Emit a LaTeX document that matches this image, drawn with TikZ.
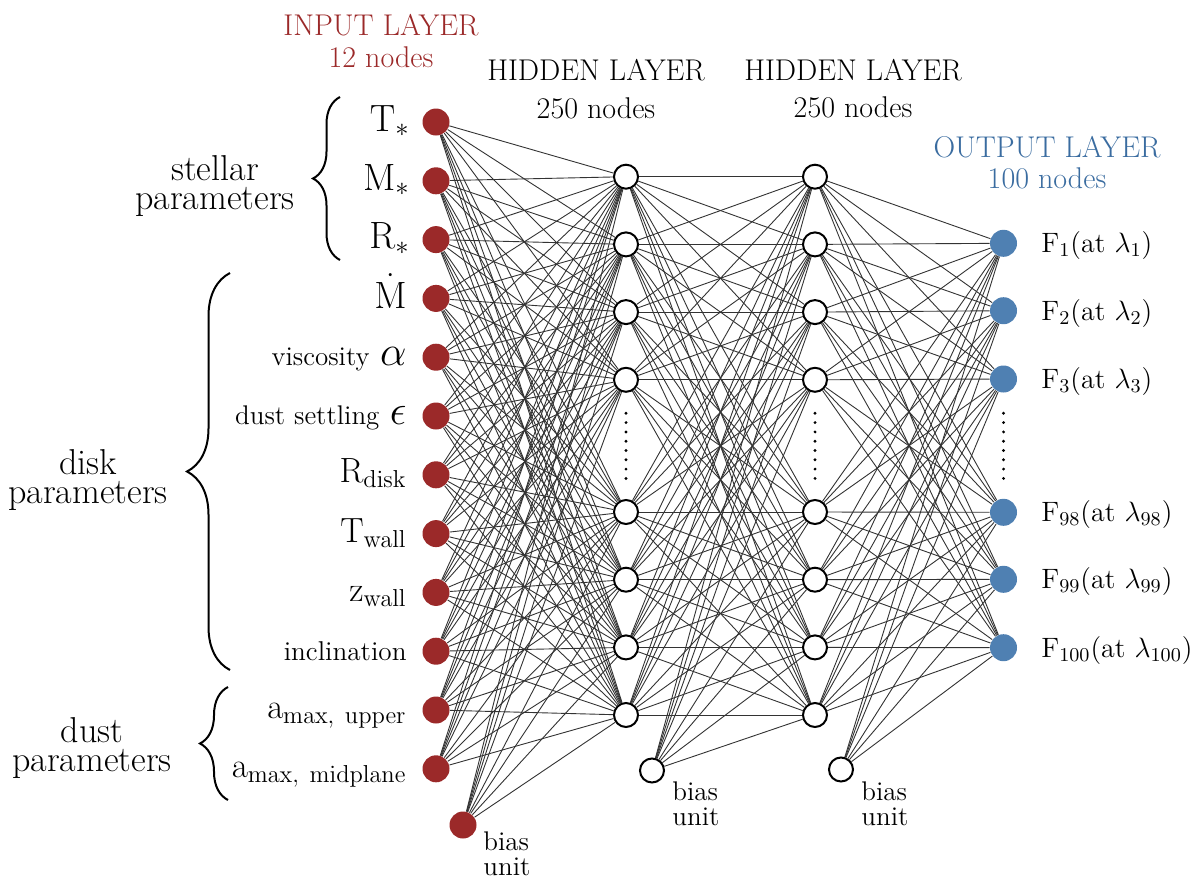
\IfFileExists{fix-cm.sty}{\RequirePackage{fix-cm}}{}
\documentclass[tikz,border=0pt]{standalone}
\usetikzlibrary{decorations.pathreplacing}
\definecolor{inred}{RGB}{155,41,41}
\definecolor{outblue}{RGB}{79,128,178}
\definecolor{outbluetext}{RGB}{58,108,160}
\newcommand{\bigmath}{\fontsize{19}{21}\selectfont}
\newcommand{\midmath}{\fontsize{17.5}{20}\selectfont}
\newcommand{\smalltext}{\fontsize{13.5}{15}\selectfont}
\newcommand{\greek}{\fontsize{21}{23}\selectfont}
\begin{document}
\begin{tikzpicture}[x=0.5pt,y=-0.5pt,
  innode/.style={circle,fill=inred,minimum size=13.5pt,inner sep=0pt},
  hidnode/.style={circle,draw=black,fill=white,line width=1pt,minimum size=12pt,inner sep=0pt},
  outnode/.style={circle,fill=outblue,minimum size=13.5pt,inner sep=0pt},
  conn/.style={line width=0.45pt,draw=black!80},
  lab/.style={font=\midmath,inner sep=0pt,anchor=base east},
  olab/.style={font=\fontsize{14}{16}\selectfont,inner sep=0pt,anchor=base west},
  ttl/.style={font=\fontsize{15}{17}\selectfont,inner sep=0pt,anchor=base},
  glab/.style={font=\fontsize{18}{14.5}\selectfont,inner sep=0pt,align=center},
  blab/.style={font=\fontsize{13.5}{12.5}\selectfont,inner sep=0pt,align=left,anchor=north west},
  bracestyle/.style={line width=1pt,decorate},
  dotstyle/.style={fill=black}
]
\useasboundingbox (0,0) rectangle (1200,889);

% input layer
\foreach \y [count=\i] in {122,180.8,239.6,298.4,357.2,416,474.8,533.6,592.4,651.2,710,768.8}
  \node[innode] (i\i) at (436,\y) {};
\node[innode] (ib) at (463,825) {};

% hidden layers
\foreach \y [count=\i] in {176.7,244.4,312.1,379.8,512,579.7,647.4,715}{
  \node[hidnode] (a\i) at (626,\y) {};
  \node[hidnode] (b\i) at (815,\y) {};
}
\node[hidnode] (ab) at (652,770.5) {};
\node[hidnode] (bb) at (841,769.5) {};

% output layer
\foreach \y [count=\i] in {243.3,310.7,379,512.3,579.3,647.7}
  \node[outnode] (o\i) at (1003.5,\y) {};

% connections
\foreach \s in {1,...,12,b}
  \foreach \t in {1,...,8}
    \draw[conn] (i\s) -- (a\t);
\foreach \s in {1,...,8,b}
  \foreach \t in {1,...,8}
    \draw[conn] (a\s) -- (b\t);
\foreach \s in {1,...,8,b}
  \foreach \t in {1,...,6}
    \draw[conn] (b\s) -- (o\t);

% dots
\foreach \x in {626,815,1003.5}
  \foreach \k in {0,...,7}
    \fill[dotstyle] (\x,{413.3+9.3*\k}) circle (0.8pt);

% input labels
\node[lab,font=\bigmath] (l1) at (410,131) {$\mathrm{T}_{*}$};
\node[lab,font=\bigmath] (l2) at (410,190) {$\mathrm{M}_{*}$};
\node[lab,font=\bigmath] (l3) at (410,248.5) {$\mathrm{R}_{*}$};
\node[lab,font=\bigmath] (l4) at (407,308) {$\dot{\mathrm{M}}$};
\node[lab] (l5) at (407,365.5) {{\smalltext viscosity} {\greek$\alpha$}};
\node[lab] (l6) at (407,424.5) {{\smalltext dust settling} {\greek$\epsilon$}};
\node[lab] (l7) at (407,482.5) {$\mathrm{R}_{\mathrm{disk}}$};
\node[lab] (l8) at (407,542) {$\mathrm{T}_{\mathrm{wall}}$};
\node[lab] (l9) at (407,601) {$\mathrm{z}_{\mathrm{wall}}$};
\node[lab,font=\fontsize{13.6}{15}\selectfont] (l10) at (407,660) {inclination};
\node[lab] (l11) at (407,718.5) {$\mathrm{a}_{\mathrm{max,\ upper}}$};
\node[lab] (l12) at (407,777) {$\mathrm{a}_{\mathrm{max,\ midplane}}$};

% output labels
\node[olab] (ol1) at (1041,252.5) {$\mathrm{F}_{1}$(at $\lambda_{1}$)};
\node[olab] (ol2) at (1041,320) {$\mathrm{F}_{2}$(at $\lambda_{2}$)};
\node[olab] (ol3) at (1041,388) {$\mathrm{F}_{3}$(at $\lambda_{3}$)};
\node[olab] (ol4) at (1041,521.5) {$\mathrm{F}_{98}$(at $\lambda_{98}$)};
\node[olab] (ol5) at (1041,588.5) {$\mathrm{F}_{99}$(at $\lambda_{99}$)};
\node[olab] (ol6) at (1041,657) {$\mathrm{F}_{100}$(at $\lambda_{100}$)};

% titles
\node[ttl,text=inred] (t1) at (381,35) {INPUT LAYER};
\node[ttl,text=inred] (t1n) at (381,67) {12 nodes};
\node[ttl] (t2) at (596,80) {HIDDEN LAYER};
\node[ttl] (t2n) at (596,118) {250 nodes};
\node[ttl] (t3) at (853,80) {HIDDEN LAYER};
\node[ttl] (t3n) at (853,117) {250 nodes};
\node[ttl,text=outbluetext] (t4) at (1047,157) {OUTPUT LAYER};
\node[ttl,text=outbluetext] (t4n) at (1047,188) {100 nodes};

% bias labels
\node[blab] (bl0) at (483,831) {bias\\unit};
\node[blab] (bl1) at (672,781) {bias\\unit};
\node[blab] (bl2) at (861,781) {bias\\unit};

% groups
\draw[bracestyle,decoration={brace,amplitude=13.5pt}] (340,260) -- (340,97);
\draw[bracestyle,decoration={brace,amplitude=21.5pt}] (230,670) -- (230,273);
\draw[bracestyle,decoration={brace,amplitude=14pt}] (228,800) -- (228,687);
\node[glab] (g1) at (215,186) {stellar\\parameters};
\node[glab] (g2) at (88,480) {disk\\parameters};
\node[glab] (g3) at (92,748.5) {dust\\parameters};
\end{tikzpicture}
\end{document}
